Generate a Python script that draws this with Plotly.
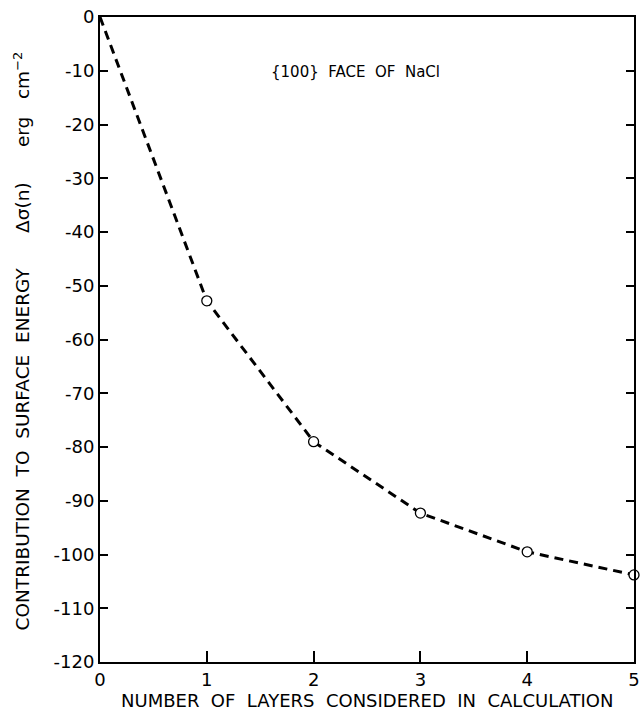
import plotly.graph_objects as go

layers = [0, 1, 2, 3, 4, 5]
delta_sigma = [0, -52.8, -79.0, -92.3, -99.5, -103.8]
marker_layers = [1, 2, 3, 4, 5]
marker_values = [-52.8, -79.0, -92.3, -99.5, -103.8]
y_ticks = [0, -10, -20, -30, -40, -50, -60, -70, -80, -90, -100, -110, -120]
x_ticks = [0, 1, 2, 3, 4, 5]

font_family = "DejaVu Sans, Liberation Sans, sans-serif"

fig = go.Figure()
fig.add_trace(go.Scatter(
    x=layers, y=delta_sigma, mode="lines",
    line=dict(color="black", width=3, dash="9px,6px"),
    hoverinfo="skip", showlegend=False,
))
fig.add_trace(go.Scatter(
    x=marker_layers, y=marker_values, mode="markers",
    marker=dict(symbol="circle", size=10, color="white",
                line=dict(color="black", width=1.3)),
    showlegend=False, cliponaxis=False,
))

fig.update_layout(
    width=642, height=717,
    margin=dict(l=100, r=6, t=17, b=55),
    paper_bgcolor="white", plot_bgcolor="white",
    font=dict(family=font_family, color="black", size=16),
    xaxis=dict(
        range=[0, 5], tickvals=x_ticks, ticktext=[str(v) for v in x_ticks],
        ticks="inside", ticklen=11, tickwidth=1.5, tickcolor="black",
        showline=True, linecolor="black", linewidth=2, mirror=True,
        showgrid=False, zeroline=False, tickfont=dict(size=18),
        automargin=False,
    ),
    yaxis=dict(
        range=[-120, 0], tickvals=y_ticks, ticktext=[str(v) for v in y_ticks],
        ticks="inside", ticklen=8, tickwidth=1.5, tickcolor="black",
        showline=True, linecolor="black", linewidth=2, mirror="ticks",
        showgrid=False, zeroline=False, tickfont=dict(size=18),
    ),
    annotations=[
        dict(text="{100}  FACE  OF  NaCl", x=2.39, y=-10.3, xref="x", yref="y",
             showarrow=False, font=dict(size=15)),
        dict(text="NUMBER  OF  LAYERS  CONSIDERED  IN  CALCULATION",
             x=0.5, y=-0.06, xref="paper", yref="paper", yanchor="middle",
             showarrow=False, font=dict(size=18)),
        dict(text="CONTRIBUTION  TO  SURFACE  ENERGY      Δσ(n)      erg   cm<sup>−2</sup>",
             x=-0.146, y=0.497, xref="paper", yref="paper", xanchor="center",
             textangle=-90, showarrow=False, font=dict(size=18.5)),
    ],
)

fig.write_html("out.html", post_script="document.body.style.margin='0';",
               config={"displayModeBar": False})
